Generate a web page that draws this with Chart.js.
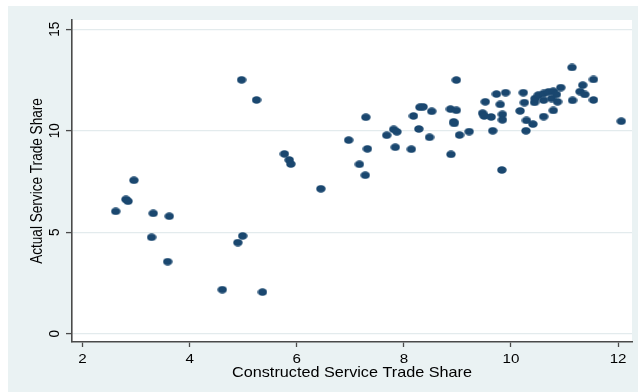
<!DOCTYPE html>
<html>
<head>
<meta charset="utf-8">
<script src="https://cdn.jsdelivr.net/npm/chart.js@4/dist/chart.umd.min.js"></script>
<style>
  html, body { margin: 0; padding: 0; background: #ffffff; }
  #wrap { width: 638px; height: 392px; }
</style>
</head>
<body>
<div id="wrap"><canvas id="c" width="638" height="392"></canvas></div>
<script>
// Constructed vs. actual service trade share, one point per observation
const constructedShare = [
  2.62, 2.81, 2.85, 2.96, 3.29, 3.32, 3.59, 3.62, 4.61, 4.90,
  4.99, 4.97, 5.25, 5.36, 5.77, 5.86, 5.89, 6.45, 6.97, 7.17,
  7.28, 7.29, 7.32, 7.68, 7.81, 7.87, 7.84, 8.14, 8.18, 8.28,
  8.30, 8.36, 8.48, 8.52, 8.87, 8.88, 8.93, 8.94, 8.98, 8.98,
  9.04, 9.22, 9.47, 9.50, 9.52, 9.63, 9.66, 9.73, 9.80, 9.83,
  9.84, 9.84, 9.90, 10.17, 10.23, 10.25, 10.28, 10.29, 10.41, 10.44,
  10.45, 10.51, 10.61, 10.61, 10.61, 10.70, 10.76, 10.79, 10.79, 10.85,
  10.87, 10.93, 11.14, 11.15, 11.29, 11.34, 11.38, 11.54, 11.54, 12.06
];
const actualShare = [
  6.03, 6.62, 6.53, 7.56, 4.75, 5.93, 3.55, 5.79, 2.17, 4.49,
  4.82, 12.51, 11.52, 2.05, 8.86, 8.56, 8.36, 7.14, 9.54, 8.35,
  7.81, 10.67, 9.11, 9.78, 10.07, 9.95, 9.19, 9.09, 10.73, 10.09,
  11.16, 11.18, 9.68, 10.96, 11.07, 8.84, 10.44, 10.36, 11.01, 12.50,
  9.79, 9.96, 10.87, 10.73, 11.43, 10.68, 10.00, 11.81, 11.30, 8.07,
  10.81, 10.54, 11.88, 10.98, 11.88, 11.39, 10.00, 10.51, 10.33, 11.40,
  11.59, 11.76, 10.70, 11.51, 11.84, 11.92, 11.59, 11.00, 11.95, 11.79,
  11.43, 12.13, 13.12, 11.50, 11.93, 12.25, 11.79, 12.53, 11.52, 10.47
];

// Axis ticks and titles
const xTicks = [2, 4, 6, 8, 10, 12];
const yTicks = [0, 5, 10, 15];
const xTitle = 'Constructed Service Trade Share';
const yTitle = 'Actual Service Trade Share';

const MARKER = '#1a476f';
const OUTER_BG = '#eaf2f3';
const GRID = '#e3ebed';
const AXIS = '#4a4a4a';
const FONT = '"Liberation Sans", Arial, Helvetica, sans-serif';
const SX = 1.15; // horizontal stretch applied to all text

// Slightly wide elliptical marker
function makeMarker() {
  const m = document.createElement('canvas');
  m.width = 10; m.height = 8;
  const g = m.getContext('2d');
  g.fillStyle = MARKER;
  g.beginPath();
  g.ellipse(5, 4, 4.7, 3.85, 0, 0, Math.PI * 2);
  g.fill();
  return m;
}

const points = constructedShare.map((v, i) => ({ x: v, y: actualShare[i] }));

const backgroundPlugin = {
  id: 'panelBackground',
  beforeDraw(chart) {
    const { ctx, chartArea: a, width, height } = chart;
    ctx.save();
    ctx.fillStyle = '#ffffff';
    ctx.fillRect(0, 0, width, height);
    ctx.fillStyle = OUTER_BG;
    ctx.fillRect(8, 6, width - 8, height - 6);
    ctx.fillStyle = '#ffffff';
    ctx.fillRect(a.left, a.top, a.right - a.left, a.bottom - a.top);
    ctx.restore();
  }
};

const textPlugin = {
  id: 'axisText',
  afterDraw(chart) {
    const { ctx, chartArea: a, scales: { x, y } } = chart;
    ctx.save();
    ctx.fillStyle = '#000000';
    ctx.textAlign = 'center';
    ctx.textBaseline = 'alphabetic';

    // x tick labels
    ctx.font = '13.2px ' + FONT;
    xTicks.forEach(v => {
      ctx.save();
      ctx.translate(x.getPixelForValue(v), a.bottom + 21);
      ctx.scale(SX, 1);
      ctx.fillText(String(v), 0, 0);
      ctx.restore();
    });

    // x title
    ctx.font = '14.1px ' + FONT;
    ctx.save();
    ctx.translate((a.left + a.right) / 2, a.bottom + 34.5);
    ctx.scale(SX, 1);
    ctx.fillText(xTitle, 0, 0);
    ctx.restore();

    // y tick labels, rotated
    ctx.font = '13.5px ' + FONT;
    yTicks.forEach(v => {
      ctx.save();
      ctx.translate(a.left - 13.5, y.getPixelForValue(v));
      ctx.scale(SX, 1);
      ctx.rotate(-Math.PI / 2);
      ctx.fillText(String(v), 0, 0);
      ctx.restore();
    });

    // y title, rotated
    ctx.font = '13.6px ' + FONT;
    ctx.save();
    ctx.translate(a.left - 30, (a.top + a.bottom) / 2);
    ctx.scale(SX, 1);
    ctx.rotate(-Math.PI / 2);
    ctx.fillText(yTitle, 0, 0);
    ctx.restore();

    ctx.restore();
  }
};

new Chart(document.getElementById('c'), {
  type: 'scatter',
  data: {
    datasets: [{
      data: points,
      pointStyle: makeMarker(),
      pointRadius: 4.5,
      pointHoverRadius: 4.5,
      backgroundColor: MARKER,
      borderColor: MARKER,
      borderWidth: 0
    }]
  },
  options: {
    responsive: false,
    devicePixelRatio: 1,
    animation: false,
    events: [],
    layout: { padding: { left: 0, top: 20, right: 6, bottom: 0 } },
    plugins: { legend: { display: false }, tooltip: { enabled: false } },
    scales: {
      x: {
        type: 'linear',
        min: 1.804,
        max: 12.26,
        afterFit: s => { s.height = 50; },
        afterBuildTicks: s => { s.ticks = xTicks.map(v => ({ value: v })); },
        ticks: { display: false, includeBounds: false },
        grid: {
          drawOnChartArea: false,
          drawTicks: true,
          tickLength: 5,
          tickColor: AXIS,
          tickWidth: 1.3
        },
        border: { display: true, color: AXIS, width: 1.6 },
        title: { display: false }
      },
      y: {
        type: 'linear',
        min: -0.41,
        max: 15.46,
        afterFit: s => { s.width = 72; },
        afterBuildTicks: s => { s.ticks = yTicks.map(v => ({ value: v })); },
        ticks: { display: false, includeBounds: false },
        grid: {
          color: GRID,
          lineWidth: 1.2,
          drawOnChartArea: true,
          drawTicks: true,
          tickLength: 6,
          tickColor: AXIS,
          tickWidth: 1.3
        },
        border: { display: true, color: AXIS, width: 1.6 },
        title: { display: false }
      }
    }
  },
  plugins: [backgroundPlugin, textPlugin]
});
</script>
</body>
</html>
